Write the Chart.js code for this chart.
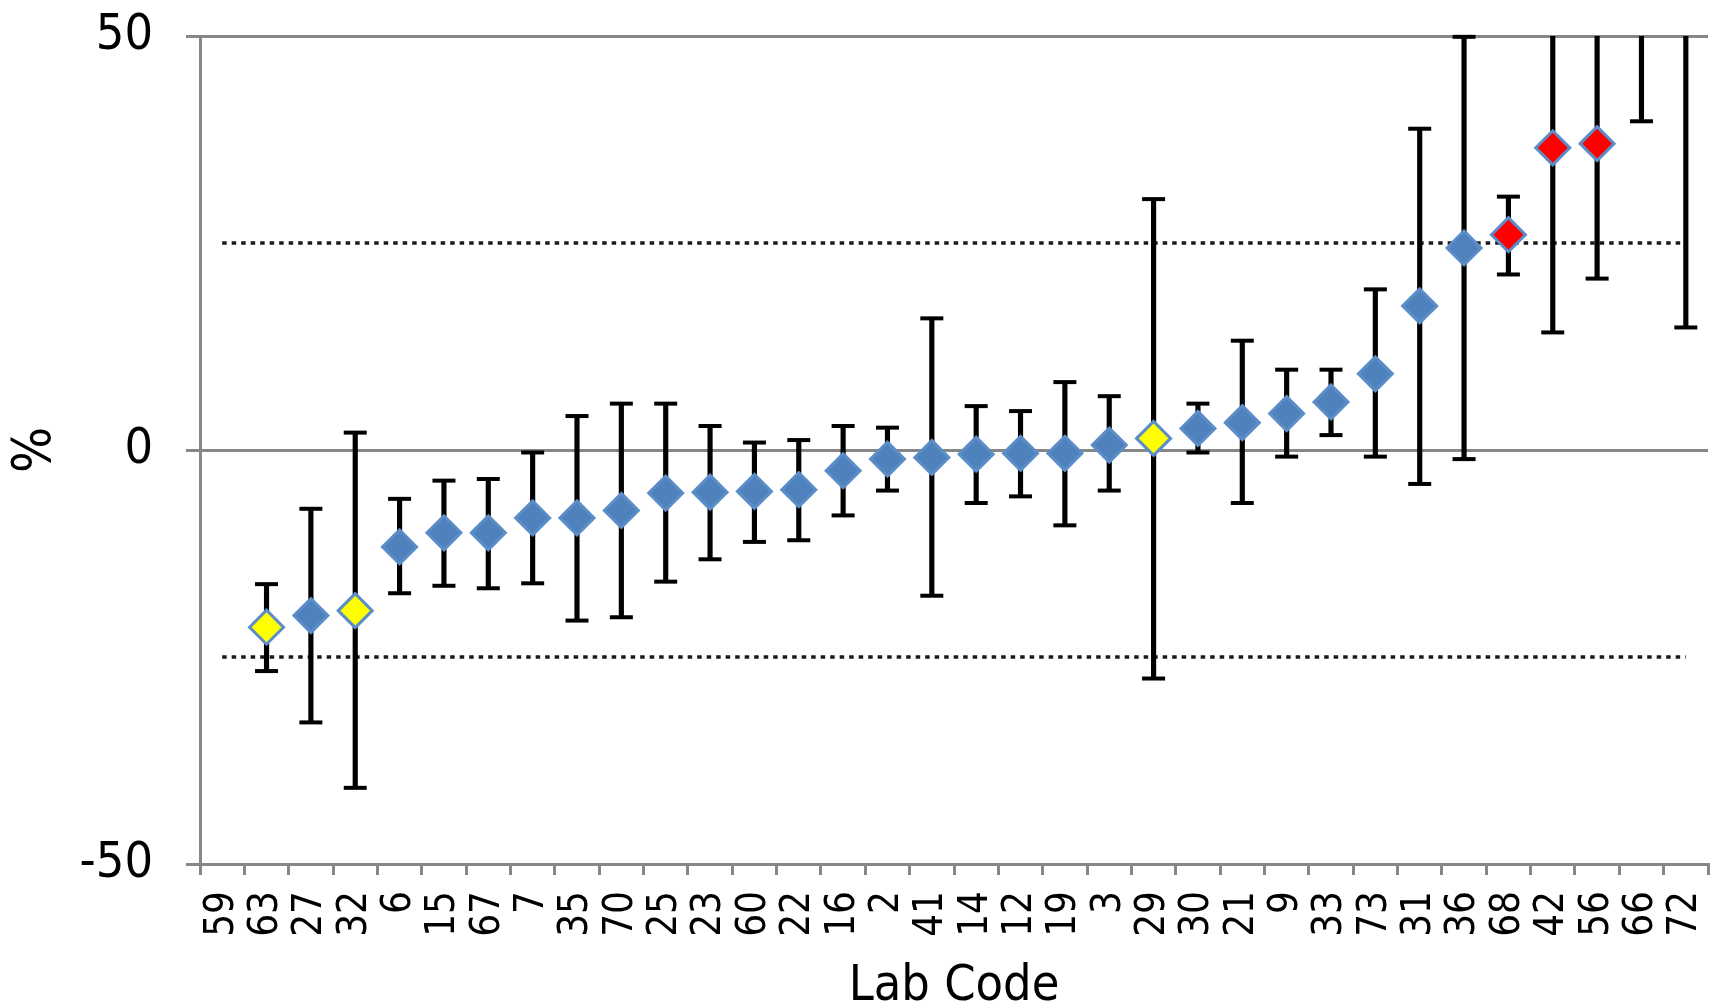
<!DOCTYPE html>
<html>
<head>
<meta charset="utf-8">
<title>Lab Code</title>
<script src="https://cdn.jsdelivr.net/npm/chart.js@4.4.1/dist/chart.umd.min.js"></script>
<style>
html,body{margin:0;padding:0;background:#fff;}
canvas{display:block;}
</style>
</head>
<body>
<canvas id="c" width="1715" height="1008"></canvas>
<script>
// lab codes, ordered by result
var labs=['59','63','27','32','6','15','67','7','35','70','25','23','60','22','16','2','41','14','12','19','3','29','30','21','9','33','73','31','36','68','42','56','66','72'];
// deviation from assigned value, %
var result=[null,-21.4,-20.0,-19.4,-11.7,-10.0,-10.0,-8.2,-8.2,-7.3,-5.2,-5.1,-5.0,-4.8,-2.5,-1.1,-0.9,-0.5,-0.4,-0.4,0.6,1.4,2.6,3.3,4.4,5.8,9.2,17.4,24.4,26.0,36.5,37.0,null,null];
// uncertainty interval, lower and upper ends
var lower=[null,-26.7,-32.9,-40.8,-17.3,-16.4,-16.7,-16.1,-20.6,-20.2,-15.9,-13.2,-11.1,-10.9,-7.9,-4.9,-17.6,-6.4,-5.6,-9.1,-4.9,-27.6,-0.3,-6.4,-0.8,1.8,-0.8,-4.1,-1.1,21.2,14.2,20.7,39.7,14.8];
var upper=[null,-16.2,-7.1,2.1,-5.9,-3.7,-3.5,-0.3,4.1,5.6,5.6,2.9,0.9,1.2,2.9,2.7,15.9,5.3,4.7,8.2,6.5,30.3,5.6,13.2,9.7,9.7,19.4,38.8,49.9,30.6,58.8,53.3,62,70];
var warnLabs=['63','32','29'];
var actionLabs=['68','42','56'];
var limits=[25,-25];

(function(){
  var GRID='#878787',BLUE='#4F81BD',EDGE='#5B8DC8',INK='#000';
  var FONT="'DejaVu Sans Condensed','DejaVu Sans',sans-serif";
  var fill=labs.map(function(l){
    if(actionLabs.indexOf(l)>=0)return '#FF0000';
    if(warnLabs.indexOf(l)>=0)return '#FFFF00';
    return BLUE;
  });
  function caps(vals){
    return {type:'line',data:vals,showLine:false,pointStyle:'line',pointRadius:11.5,
      pointBorderWidth:4,pointBorderColor:INK,pointBackgroundColor:INK,clip:3};
  }
  function limitLine(v){
    return {type:'line',data:[{x:labs[0],y:v},{x:labs[labs.length-1],y:v}],
      borderColor:'#1a1a1a',borderWidth:3.5,borderDash:[4.5,5],pointRadius:0,fill:false};
  }
  new Chart(document.getElementById('c').getContext('2d'),{
    type:'bar',
    data:{labels:labs,datasets:[
      {type:'line',data:result,showLine:false,pointStyle:'rectRot',pointRadius:17,
        pointBorderWidth:3,pointBackgroundColor:fill,pointBorderColor:EDGE},
      caps(upper),
      caps(lower),
      {type:'bar',data:labs.map(function(l,i){return lower[i]==null?null:[lower[i],upper[i]];}),
        backgroundColor:INK,barThickness:4.5,clip:0},
      limitLine(limits[0]),
      limitLine(limits[1])
    ]},
    options:{
      responsive:false,animation:false,events:[],devicePixelRatio:1,
      layout:{autoPadding:false,padding:{top:36,right:7,left:0,bottom:0}},
      plugins:{legend:{display:false},tooltip:{enabled:false}},
      scales:{
        x:{offset:true,
          grid:{offset:true,drawOnChartArea:false,drawTicks:true,tickLength:11,color:GRID,lineWidth:3},
          border:{color:GRID,width:3},
          ticks:{minRotation:90,maxRotation:90,autoSkip:false,padding:16,color:INK,font:{family:FONT,size:40}},
          title:{display:true,text:'Lab Code',color:INK,font:{family:FONT,size:50,lineHeight:1},padding:{top:0,bottom:-4}},
          afterFit:function(s){s.height=144;s.paddingLeft=0;s.paddingRight=0;}
        },
        y:{min:-50,max:50,
          ticks:{stepSize:50,padding:33,color:INK,font:{family:FONT,size:50}},
          grid:{color:GRID,lineWidth:3,tickLength:14},
          border:{color:GRID,width:3},
          title:{display:true,text:'%',color:INK,font:{family:FONT,size:54,lineHeight:1},padding:{top:9,bottom:0}},
          afterFit:function(s){s.width=200;s.paddingTop=0;s.paddingBottom=0;}
        }
      }
    }
  });
})();
</script>
</body>
</html>
